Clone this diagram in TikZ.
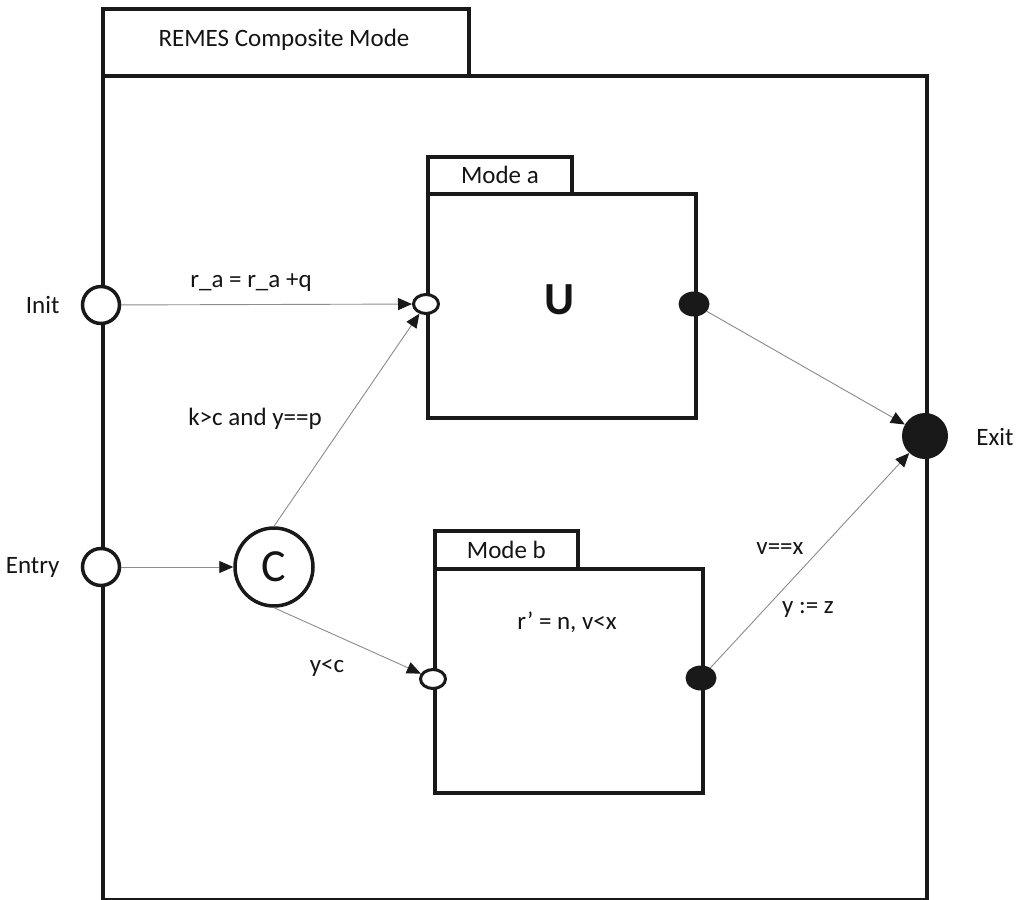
\documentclass[tikz,border=0pt]{standalone}
\usepackage{fontspec}
\setmainfont{Carlito}
\usetikzlibrary{arrows.meta,shapes.geometric}
\begin{document}
\begin{tikzpicture}[x=1pt,y=-1pt,
  every node/.style={font=\fontsize{25}{30}\selectfont, text=black!92},
  boxnode/.style={draw=black!90, line width=3.8pt, fill=white, inner sep=0pt, anchor=north west},
  bigport/.style={circle, draw=black!90, line width=3.5pt, fill=white, minimum size=37pt, inner sep=0pt},
  inport/.style={ellipse, draw=black!90, line width=3pt, fill=white, minimum width=25pt, minimum height=19pt, inner sep=0pt},
  outport/.style={ellipse, fill=black!90, minimum width=31pt, minimum height=25pt, inner sep=0pt},
  exitport/.style={circle, fill=black!90, minimum size=46pt, inner sep=0pt},
  choice/.style={circle, draw=black!90, line width=3.5pt, fill=white, minimum size=78pt, inner sep=0pt, font=\fontsize{46}{50}\selectfont},
  conn/.style={draw=black!45, line width=0.9pt, -{Triangle[length=14pt,width=12pt,color=black!90]}}
]
\useasboundingbox (0,0) rectangle (1018,900);
% outer composite mode
\node[boxnode, line width=4pt, minimum width=366pt, minimum height=67pt] (outertab) at (101,7) {};
\node[boxnode, line width=4pt, minimum width=824pt, minimum height=824pt] (outer) at (101,74) {};
\node (title) at (284,40) {REMES Composite Mode};
% mode a
\node[boxnode, minimum width=144pt, minimum height=37pt] (taba) at (426,155) {Mode a};
\node[boxnode, minimum width=268pt, minimum height=224pt] (modea) at (426,192) {};
\node[font=\fontsize{46}{50}\selectfont\bfseries] (U) at (560,300) {U};
% mode b
\node[boxnode, minimum width=143pt, minimum height=38pt] (tabb) at (433,529) {Mode b};
\node[boxnode, minimum width=268pt, minimum height=224pt] (modeb) at (433,567) {};
\node (inv) at (567,622) {r’ = n, v<x};
% ports
\node[bigport] (init) at (101,305) {};
\node[anchor=east] (initlbl) at (63,305) {Init};
\node[bigport] (entry) at (101,567) {};
\node[anchor=east] (entrylbl) at (63,567) {Entry};
\node[choice] (C) at (274,567) {C};
\node[inport] (ain) at (426,304) {};
\node[outport] (aout) at (694,304) {};
\node[inport] (bin) at (433,679) {};
\node[outport] (bout) at (701,678) {};
\node[exitport] (exit) at (925,436) {};
\node (exitlbl) at (995,437) {Exit};
% connectors
\draw[conn] (init) -- (ain);
\draw[conn] (C.north) -- (ain);
\draw[conn] (entry) -- (C);
\draw[conn] (C.south) -- (bin);
\draw[conn] (aout) -- (exit);
\draw[conn] (bout) -- (exit);
% labels
\node (l1) at (251,283) {r\_a = r\_a +q};
\node (l2) at (255,419) {k>c and y==p};
\node (l3) at (327,668) {y<c};
\node (l4) at (780,549) {v==x};
\node (l5) at (808,610) {y := z};
\end{tikzpicture}
\end{document}
